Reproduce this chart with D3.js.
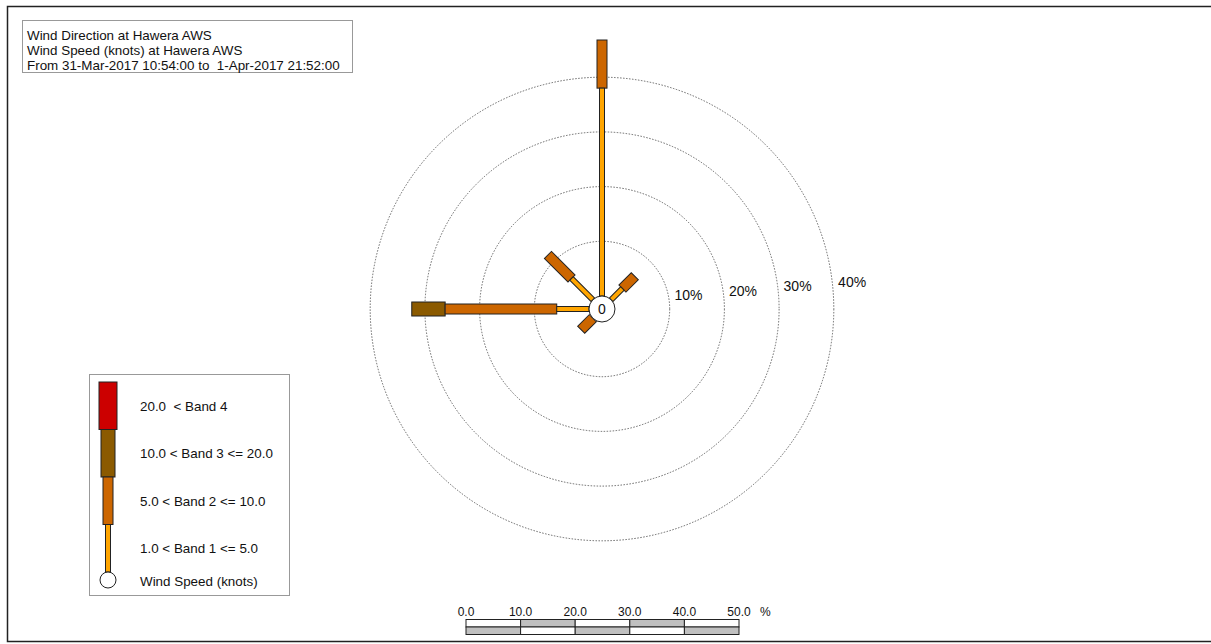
<!DOCTYPE html>
<html>
<head>
<meta charset="utf-8">
<script src="https://cdn.jsdelivr.net/npm/d3@7"></script>
<style>
  body { margin: 0; background: #fff; }
  text { font-family: "Liberation Sans", Arial, sans-serif; fill: #111; white-space: pre; }
</style>
</head>
<body>
<div id="rose"></div>
<script>
    var width = 1211, height = 644;

    // directions (degrees clockwise from north)
    var directions = ["N", "NE", "E", "SE", "S", "SW", "W", "NW"];
    var angles = [0, 45, 90, 135, 180, 225, 270, 315];
    // percent of time per speed band
    var band1 = [38.0, 2.9, 0, 0, 0, 0, 5.9, 5.5];
    var band2 = [8.8, 3.2, 0, 0, 0, 3.0, 20.4, 6.1];
    var band3 = [0, 0, 0, 0, 0, 0, 6.1, 0];
    var band4 = [0, 0, 0, 0, 0, 0, 0, 0];

    var bandColors = ["#FFA500", "#CC6600", "#8B5A00", "#CC0000"];
    var bandWidths = [5, 10, 14, 18];
    var bandLabels = ["1.0 < Band 1 <= 5.0", "5.0 < Band 2 <= 10.0", "10.0 < Band 3 <= 20.0", "20.0  < Band 4"];
    var rings = [10, 20, 30, 40];
    var scaleTicks = [0, 10, 20, 30, 40, 50];
    var titleLines = [
        "Wind Direction at Hawera AWS",
        "Wind Speed (knots) at Hawera AWS",
        "From 31-Mar-2017 10:54:00 to  1-Apr-2017 21:52:00"
    ];

    var cx = 602, cy = 309;
    var r = d3.scaleLinear().domain([0, 50]).range([13, 13 + 5.47 * 50]);

    var svg = d3.select("#rose").append("svg")
        .attr("width", width)
        .attr("height", height);

    // outer frame
    svg.append("rect")
        .attr("x", 7.5).attr("y", 6.5)
        .attr("width", 1230).attr("height", 635)
        .attr("fill", "none").attr("stroke", "#222").attr("stroke-width", 1.5);

    // title box
    svg.append("rect")
        .attr("x", 22.5).attr("y", 20.5).attr("width", 330).attr("height", 52)
        .attr("fill", "#fff").attr("stroke", "#999");
    svg.append("g").selectAll("text")
        .data(titleLines)
        .enter().append("text")
        .attr("x", 27)
        .attr("y", function (d, i) { return 39.5 + i * 15; })
        .attr("font-size", "13.4px")
        .text(function (d) { return d; });

    // rings
    var g = svg.append("g").attr("transform", "translate(" + cx + "," + cy + ")");
    g.selectAll("circle.ring")
        .data(rings)
        .enter().append("circle")
        .attr("class", "ring")
        .attr("r", function (d) { return r(d); })
        .attr("fill", "none")
        .attr("stroke", "#444")
        .attr("stroke-width", 0.8)
        .attr("stroke-dasharray", "1.5,1.5");

    var la = 4.4 * Math.PI / 180;
    g.selectAll("text.ringlabel")
        .data(rings)
        .enter().append("text")
        .attr("class", "ringlabel")
        .attr("x", function (d) { return r(d) * Math.cos(la) + 5; })
        .attr("y", function (d) { return -r(d) * Math.sin(la) - 9; })
        .attr("dy", "0.35em")
        .attr("font-size", "14px")
        .text(function (d) { return d + "%"; });

    // stacked bars
    var bands = [band1, band2, band3, band4];
    var segs = [];
    directions.forEach(function (dir, i) {
        var start = 0;
        bands.forEach(function (b, k) {
            if (b[i] > 0) {
                segs.push({ angle: angles[i], band: k, from: start, to: start + b[i] });
            }
            start += b[i];
        });
    });
    // draw outer bands first so inner stems sit on top
    segs.sort(function (a, b) { return b.band - a.band; });
    g.selectAll("rect.seg")
        .data(segs)
        .enter().append("rect")
        .attr("class", "seg")
        .attr("transform", function (d) { return "rotate(" + d.angle + ")"; })
        .attr("x", function (d) { return -bandWidths[d.band] / 2; })
        .attr("y", function (d) { return -r(d.to); })
        .attr("width", function (d) { return bandWidths[d.band]; })
        .attr("height", function (d) { return r(d.to) - r(d.from); })
        .attr("fill", function (d) { return bandColors[d.band]; })
        .attr("stroke", "#222")
        .attr("stroke-width", 1);

    g.append("circle").attr("r", 13)
        .attr("fill", "#fff").attr("stroke", "#222").attr("stroke-width", 1);
    g.append("text").attr("text-anchor", "middle").attr("dy", "0.36em")
        .attr("font-size", "14px").text("0");

    // legend
    svg.append("rect")
        .attr("x", 89.5).attr("y", 374.5).attr("width", 200).attr("height", 221)
        .attr("fill", "#fff").attr("stroke", "#999");
    var lx = 108, segH = 47.5;
    var leg = svg.append("g");
    [3, 2, 1, 0].forEach(function (k, j) {
        leg.append("rect")
            .attr("x", lx - bandWidths[k] / 2)
            .attr("y", 382 + j * segH)
            .attr("width", bandWidths[k])
            .attr("height", segH)
            .attr("fill", bandColors[k])
            .attr("stroke", "#222");
        leg.append("text")
            .attr("x", 140)
            .attr("y", 382 + j * segH + 24)
            .attr("dy", "0.35em")
            .attr("font-size", "13.4px")
            .text(bandLabels[k]);
    });
    leg.append("circle").attr("cx", lx).attr("cy", 580).attr("r", 8)
        .attr("fill", "#fff").attr("stroke", "#222");
    leg.append("text").attr("x", 140).attr("y", 581).attr("dy", "0.35em")
        .attr("font-size", "13.4px").text("Wind Speed (knots)");

    // scale bar
    var sx = d3.scaleLinear().domain([0, 50]).range([466, 739]);
    var sb = svg.append("g");
    d3.range(5).forEach(function (i) {
        sb.append("rect")
            .attr("x", sx(i * 10)).attr("y", 619.5)
            .attr("width", sx(10) - sx(0)).attr("height", 7.5)
            .attr("fill", i % 2 ? "#C0C0C0" : "#fff").attr("stroke", "#222");
        sb.append("rect")
            .attr("x", sx(i * 10)).attr("y", 627)
            .attr("width", sx(10) - sx(0)).attr("height", 7.5)
            .attr("fill", i % 2 ? "#fff" : "#C0C0C0").attr("stroke", "#222");
    });
    sb.selectAll("text.tick")
        .data(scaleTicks)
        .enter().append("text")
        .attr("class", "tick")
        .attr("x", function (d) { return sx(d); })
        .attr("y", 615.5)
        .attr("text-anchor", "middle")
        .attr("font-size", "12px")
        .text(function (d) { return d.toFixed(1); });
    sb.append("text").attr("x", 760).attr("y", 615.5).attr("font-size", "12px").text("%");
</script>
</body>
</html>
